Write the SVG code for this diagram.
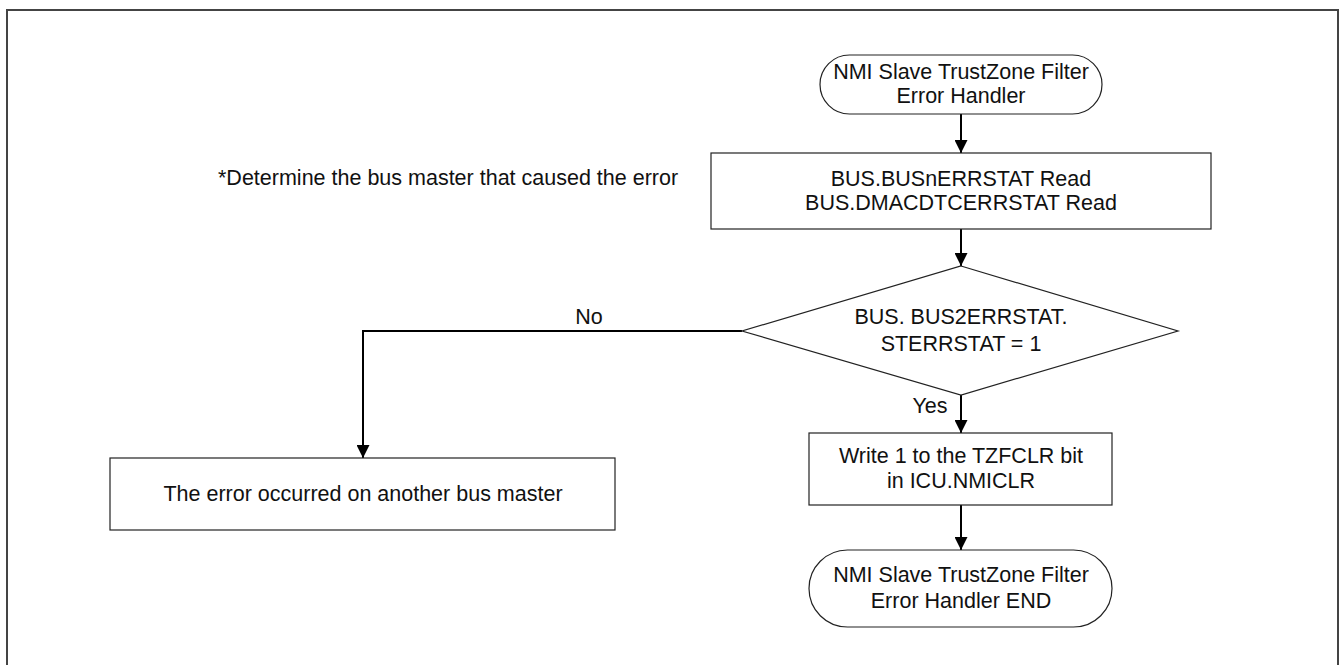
<svg xmlns="http://www.w3.org/2000/svg" width="1340" height="665" viewBox="0 0 1340 665">
<defs>
<marker id="arr" markerWidth="13" markerHeight="13" refX="13" refY="6.5" orient="auto" markerUnits="userSpaceOnUse">
<path d="M0,0 L13,6.5 L0,13 Z" fill="#000"/>
</marker>
<style>
.shape{fill:#fff;stroke:#222;stroke-width:1.2}
.conn{fill:none;stroke:#000;stroke-width:2}
text{font-family:"Liberation Sans",Arial,sans-serif;font-size:21.5px;fill:#111}
.c{text-anchor:middle}
</style>
</defs>
<rect x="0" y="0" width="1340" height="665" fill="#fff"/>
<rect x="7" y="10" width="1331" height="670" fill="none" stroke="#444" stroke-width="2"/>
<g id="connectors">
<line class="conn" x1="961" y1="114" x2="961" y2="153" marker-end="url(#arr)"/>
<line class="conn" x1="961" y1="229" x2="961" y2="266" marker-end="url(#arr)"/>
<polyline class="conn" points="742,331 363,331 363,458" marker-end="url(#arr)"/>
<line class="conn" x1="961" y1="395" x2="961" y2="433" marker-end="url(#arr)"/>
<line class="conn" x1="961" y1="505" x2="961" y2="550" marker-end="url(#arr)"/>
<text class="c" x="589" y="324">No</text>
<text class="c" x="930" y="413">Yes</text>
</g>
<g id="start">
<rect class="shape" x="820" y="55" width="282" height="59" rx="29.5" ry="29.5"/>
<text class="c" x="961" y="79">NMI Slave TrustZone Filter</text>
<text class="c" x="961" y="103">Error Handler</text>
</g>
<g id="note">
<text x="218" y="185">*Determine the bus master that caused the error</text>
</g>
<g id="read">
<rect class="shape" x="711" y="153" width="500" height="76"/>
<text class="c" x="961" y="186">BUS.BUSnERRSTAT Read</text>
<text class="c" x="961" y="210">BUS.DMACDTCERRSTAT Read</text>
</g>
<g id="decision">
<polygon class="shape" points="961,266 1178,331 961,395 742,331"/>
<text class="c" x="961" y="324">BUS. BUS2ERRSTAT.</text>
<text class="c" x="961" y="351">STERRSTAT = 1</text>
</g>
<g id="other">
<rect class="shape" x="110" y="458" width="505" height="72"/>
<text class="c" x="363" y="501">The error occurred on another bus master</text>
</g>
<g id="write">
<rect class="shape" x="809" y="433" width="303" height="72"/>
<text class="c" x="961" y="463">Write 1 to the TZFCLR bit</text>
<text class="c" x="961" y="488">in ICU.NMICLR</text>
</g>
<g id="end">
<rect class="shape" x="809" y="550" width="303" height="77" rx="38.5" ry="38.5"/>
<text class="c" x="961" y="582">NMI Slave TrustZone Filter</text>
<text class="c" x="961" y="608">Error Handler END</text>
</g>
</svg>
